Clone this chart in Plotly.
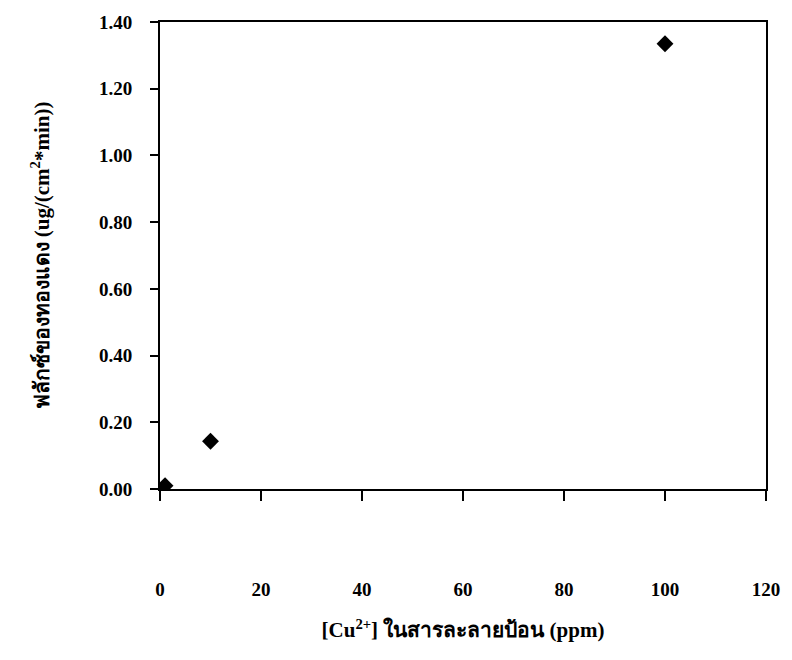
import plotly.graph_objects as go

# Copper concentration in the feed solution (ppm) and measured copper flux
cu_ppm = [1, 10, 100]
flux = [0.01, 0.143, 1.335]

x_ticks = [0, 20, 40, 60, 80, 100, 120]
y_ticks = [0.0, 0.2, 0.4, 0.6, 0.8, 1.0, 1.2, 1.4]

font_main = "Liberation Serif, Times New Roman, serif"

fig = go.Figure(
    go.Scatter(
        x=cu_ppm,
        y=flux,
        mode="markers",
        marker=dict(symbol="diamond", size=13, color="black"),
        showlegend=False,
    )
)

fig.update_layout(
    width=792,
    height=660,
    margin=dict(l=160, r=15, t=18, b=171),
    paper_bgcolor="white",
    plot_bgcolor="white",
    font=dict(family=font_main, size=19, color="black"),
)

fig.update_xaxes(
    range=[0, 120],
    tickvals=x_ticks,
    ticktext=[str(v) for v in x_ticks],
    ticks="outside",
    ticklen=10,
    tickwidth=2,
    tickcolor="black",
    ticklabelstandoff=72,
    ticklabeloverflow="allow",
    showline=True,
    linecolor="black",
    linewidth=2,
    mirror=True,
    showgrid=False,
    zeroline=False,
    tickfont=dict(family=font_main, size=19, weight="bold"),
    title=dict(
        text="[Cu<sup>2+</sup>] ในสารละลายป้อน (ppm)",
        font=dict(family=font_main, size=21, weight="bold"),
        standoff=24,
    ),
)

fig.update_yaxes(
    range=[0, 1.4],
    tickvals=y_ticks,
    ticktext=[f"{v:.2f}" for v in y_ticks],
    ticks="outside",
    ticklen=8,
    tickwidth=2,
    tickcolor="black",
    ticklabelstandoff=14,
    showline=True,
    linecolor="black",
    linewidth=2,
    mirror=True,
    showgrid=False,
    zeroline=False,
    tickfont=dict(family=font_main, size=19, weight="bold"),
    title=dict(
        text="ฟลักซ์ของทองแดง (ug/(cm<sup>2</sup>*min))",
        font=dict(family=font_main, size=21, weight="bold"),
        standoff=44,
    ),
)

fig.write_html("out.html")
